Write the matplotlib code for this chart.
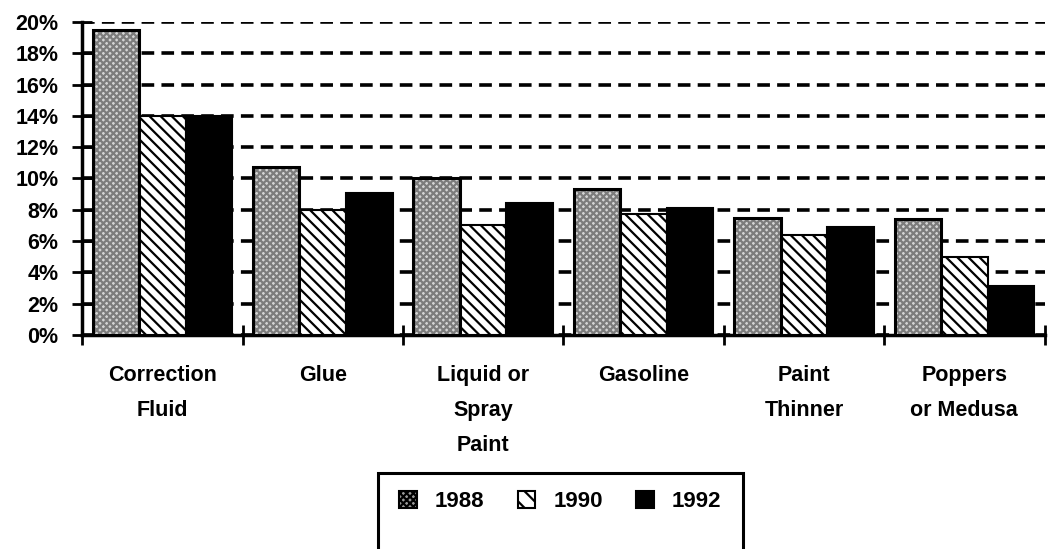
import numpy as np
import matplotlib
matplotlib.use("Agg")
import matplotlib.pyplot as plt
from matplotlib.patches import Patch, Rectangle

# data
categories = ["Correction\nFluid", "Glue", "Liquid or\nSpray\nPaint",
              "Gasoline", "Paint\nThinner", "Poppers\nor Medusa"]
years = ["1988", "1990", "1992"]
v1988 = [19.5, 10.7, 10.0, 9.3, 7.5, 7.4]
v1990 = [14.0, 8.0, 7.0, 7.7, 6.4, 5.0]
v1992 = [14.0, 9.1, 8.4, 8.1, 6.9, 3.1]
yticks = [0, 2, 4, 6, 8, 10, 12, 14, 16, 18, 20]

plt.rcParams['font.family'] = ['Liberation Sans', 'DejaVu Sans']
plt.rcParams['font.weight'] = 'bold'
plt.rcParams['hatch.linewidth'] = 1.6

fig = plt.figure(figsize=(10.53, 5.49), dpi=100)
ax = fig.add_axes([0.078, 0.39, 0.914, 0.57])

x = np.arange(len(categories))
w = 0.29

# 1988: grey stipple with black frame
ax.bar(x - w, v1988, w, facecolor="#d4d4d4", hatch="xxxxx", edgecolor="#7c7c7c",
       linewidth=0, zorder=3)
ax.bar(x - w, v1988, w, facecolor="none", edgecolor="black", linewidth=2.2, zorder=4)
# 1990: diagonal hatch
ax.bar(x, v1990, w, facecolor="white", hatch="\\\\\\", edgecolor="black",
       linewidth=1.5, zorder=3)
# 1992: solid black
ax.bar(x + w, v1992, w, facecolor="black", edgecolor="black", linewidth=1.5, zorder=3)

ax.set_xlim(-0.5, len(categories) - 0.5)
ax.set_ylim(0, 20)
ax.set_yticks(yticks)
ax.set_yticklabels([f"{t}%" for t in yticks], fontsize=15.5, fontweight='bold')
ax.yaxis.grid(True, color="black", linestyle=(0, (3.5, 2)), linewidth=2.6)
ax.set_axisbelow(True)

ax.set_xticks(x)
ax.set_xticklabels(categories, fontsize=15.5, fontweight='bold', linespacing=1.85,
                   va='top')
ax.tick_params(axis='x', which='major', length=0, pad=22)
ax.set_xticks(np.arange(-0.5, len(categories)), minor=True)
ax.tick_params(axis='x', which='minor', direction='inout', length=14, width=2)
ax.tick_params(axis='y', direction='inout', length=14, width=2, pad=10)

for s in ["top", "right"]:
    ax.spines[s].set_visible(False)
for s in ["left", "bottom"]:
    ax.spines[s].set_linewidth(2.5)

handles = [
    Patch(facecolor="#9a9a9a", hatch="xxxxx", edgecolor="black", linewidth=1.5),
    Patch(facecolor="white", hatch="\\\\", edgecolor="black", linewidth=1.5),
    Patch(facecolor="black", edgecolor="black", linewidth=1.5),
]
leg = fig.legend(handles, years, loc='center', bbox_to_anchor=(0.532, 0.087),
                 ncol=3, fontsize=16, handlelength=0.8, handleheight=0.8,
                 columnspacing=1.5, handletextpad=0.8, frameon=False,
                 borderaxespad=0)

# legend box, its bottom runs off the page as in the scan
fig.patches.append(Rectangle((0.359, -0.05), 0.347, 0.188, transform=fig.transFigure,
                             facecolor="none", edgecolor="black", linewidth=2.2,
                             clip_on=False))

fig.savefig("out.png", dpi=100)
